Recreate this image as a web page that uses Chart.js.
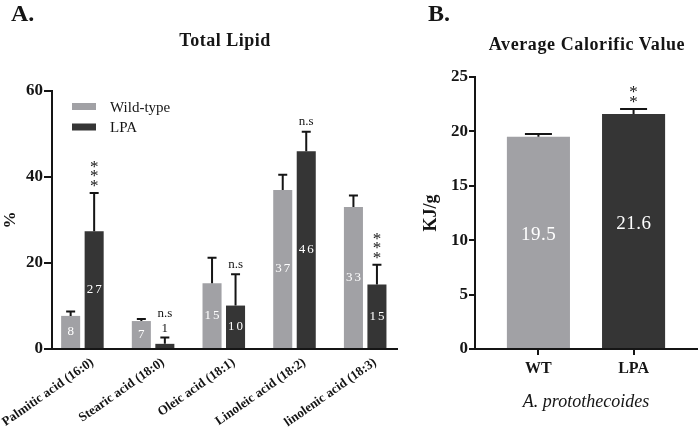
<!DOCTYPE html>
<html>
<head>
<meta charset="utf-8">
<script src="https://cdn.jsdelivr.net/npm/chart.js@4.4.0/dist/chart.umd.min.js"></script>
<style>
  body { margin: 0; background: #fff; }
  #wrap { position: relative; width: 700px; height: 433px; overflow: hidden; font-family: "Liberation Serif", "Times New Roman", Tinos, "DejaVu Serif", serif; color: #151515; }
  #wrap canvas { position: absolute; top: 0; }
  .txt { position: absolute; font-weight: bold; white-space: nowrap; line-height: 1; }
  .mid { transform: translateX(-50%); }
</style>
</head>
<body>
<div id="wrap">
  <canvas id="lipid" width="400" height="433" style="left:0"></canvas>
  <canvas id="calor" width="300" height="433" style="left:400px"></canvas>
  <div class="txt" style="left:11px;top:1px;font-size:24px">A.</div>
  <div class="txt" style="left:428px;top:1px;font-size:24px">B.</div>
  <div class="txt mid" style="left:225px;top:31px;font-size:18px;letter-spacing:0.5px">Total Lipid</div>
  <div class="txt mid" style="left:587px;top:35px;font-size:18px;letter-spacing:0.6px">Average Calorific Value</div>
</div>
<script>
// fatty acid composition (% of total lipid)
const lipidCats = ['Palmitic acid (16:0)', 'Stearic acid (18:0)', 'Oleic acid (18:1)', 'Linoleic acid (18:2)', 'linolenic acid (18:3)'];
const wtValues = [7.7, 6.5, 15.3, 37.0, 33.0];
const wtSD = [1.0, 0.5, 5.9, 3.5, 2.7];
const lpaValues = [27.4, 1.2, 10.1, 46.0, 15.0];
const lpaSD = [8.9, 1.5, 7.3, 4.5, 4.6];
const lpaSig = ['***', 'n.s', 'n.s', 'n.s', '***'];
const lipidTicks = [0, 20, 40, 60];

// calorific value (KJ/g)
const calCats = ['WT', 'LPA'];
const calValues = [19.5, 21.6];
const calSD = [0.26, 0.46];
const calSig = ['', '**'];
const calTicks = [0, 5, 10, 15, 20, 25];

const WT_COLOR = '#a1a1a5';
const LPA_COLOR = '#353535';
const INK = '#151515';
const SERIF = '"Liberation Serif", "Times New Roman", Tinos, "DejaVu Serif", serif';

Chart.defaults.font.family = SERIF;
Chart.defaults.color = INK;

// error bars (upper only), value labels and significance marks
const barExtras = {
  id: 'barExtras',
  afterDatasetsDraw(chart, args, opts) {
    const ctx = chart.ctx;
    const yScale = chart.scales.y;
    chart.data.datasets.forEach((ds, di) => {
      const meta = chart.getDatasetMeta(di);
      meta.data.forEach((bar, i) => {
        const v = ds.data[i].y;
        const capY = yScale.getPixelForValue(v + ds.sd[i]);
        ctx.save();
        ctx.strokeStyle = INK;
        ctx.lineWidth = 2;
        ctx.beginPath();
        ctx.moveTo(bar.x, bar.y);
        ctx.lineTo(bar.x, capY);
        ctx.moveTo(bar.x - opts.cap / 2, capY);
        ctx.lineTo(bar.x + opts.cap / 2, capY);
        ctx.stroke();

        ctx.textAlign = 'center';
        ctx.textBaseline = 'middle';
        ctx.font = opts.labelFont;
        ctx.letterSpacing = opts.spacing + 'px';
        const text = opts.format(v);
        let top = capY - 9;
        if (bar.base - bar.y > 20) {
          ctx.fillStyle = '#fff';
          ctx.fillText(text, bar.x + opts.spacing / 2, (bar.y + bar.base) / 2 + opts.shift);
        } else {
          ctx.fillStyle = INK;
          ctx.fillText(text, bar.x + opts.spacing / 2, top);
          top -= 14;
        }
        ctx.letterSpacing = '0px';

        const sig = ds.sig[i] || '';
        ctx.fillStyle = INK;
        if (sig.indexOf('*') >= 0) {
          ctx.font = '17px ' + SERIF;
          ctx.textBaseline = 'alphabetic';
          for (let k = 0; k < sig.length; k++) {
            ctx.fillText('*', bar.x, top - 1 - k * 9.5 + 8);
          }
        } else if (sig) {
          ctx.font = '13px ' + SERIF;
          ctx.fillText(sig, bar.x, top - 1);
        }
        ctx.restore();
      });
    });
  }
};

// small key in the top-left corner of the plot
const keyLegend = {
  id: 'keyLegend',
  afterDraw(chart) {
    const ctx = chart.ctx;
    const a = chart.chartArea;
    ctx.save();
    ctx.font = '15px ' + SERIF;
    ctx.textBaseline = 'alphabetic';
    chart.data.datasets.forEach((ds, i) => {
      const cy = a.top + 15.5 + i * 20.5;
      ctx.fillStyle = ds.backgroundColor;
      ctx.fillRect(a.left + 20, cy - 3.5, 24, 7);
      ctx.fillStyle = INK;
      ctx.fillText(ds.label, a.left + 58, cy + 5);
    });
    ctx.restore();
  }
};

const axisBorder = { display: true, color: INK, width: 2, z: 1 };
const tickFont = { family: SERIF, weight: 'bold', size: 17 };

new Chart(document.getElementById('lipid'), {
  type: 'bar',
  data: {
    datasets: [
      { label: 'Wild-type', data: wtValues.map((v, i) => ({ x: i, y: v })), sd: wtSD, sig: [],
        backgroundColor: WT_COLOR, categoryPercentage: 0.665, barPercentage: 0.81 },
      { label: 'LPA', data: lpaValues.map((v, i) => ({ x: i, y: v })), sd: lpaSD, sig: lpaSig,
        backgroundColor: LPA_COLOR, categoryPercentage: 0.665, barPercentage: 0.81 }
    ]
  },
  options: {
    responsive: false,
    animation: false,
    layout: { padding: { top: 91, right: 3, left: 0, bottom: 0 } },
    plugins: {
      legend: { display: false },
      tooltip: { enabled: false },
      barExtras: { cap: 9, labelFont: '13px ' + SERIF, spacing: 2, shift: 0, format: v => String(Math.round(v)) }
    },
    scales: {
      x: {
        type: 'linear', min: -0.43, max: 4.45, offset: false,
        grid: { display: true, drawOnChartArea: false, offset: false, color: 'rgba(0,0,0,0)', tickLength: 4 },
        border: axisBorder,
        ticks: {
          stepSize: 1, includeBounds: false, autoSkip: false, minRotation: 35, maxRotation: 35,
          padding: 2, labelOffset: 10, color: INK,
          font: { family: SERIF, weight: 'bold', size: 13 },
          callback: v => lipidCats[v] ?? ''
        },
        afterFit(s) { s.height = 84; s.paddingLeft = 0; s.paddingRight = 0; }
      },
      y: {
        min: 0, max: 60,
        afterBuildTicks(s) { s.ticks = lipidTicks.map(v => ({ value: v })); },
        grid: { drawOnChartArea: false, color: INK, lineWidth: 2, tickLength: 8 },
        border: axisBorder,
        ticks: { padding: 1, color: INK, font: tickFont },
        title: { display: true, text: '%', color: INK, font: { family: SERIF, weight: 'bold', size: 17 }, padding: { top: 0, bottom: 0 } },
        afterFit(s) { s.width = 52; s.paddingTop = 0; s.paddingBottom = 0; }
      }
    }
  },
  plugins: [barExtras, keyLegend]
});

new Chart(document.getElementById('calor'), {
  type: 'bar',
  data: {
    datasets: [
      { label: 'Calorific value', data: calValues.map((v, i) => ({ x: i, y: v })), sd: calSD, sig: calSig,
        backgroundColor: [WT_COLOR, LPA_COLOR], categoryPercentage: 1, barPercentage: 0.663 }
    ]
  },
  options: {
    responsive: false,
    animation: false,
    layout: { padding: { top: 77, right: 3, left: 0, bottom: 0 } },
    plugins: {
      legend: { display: false },
      tooltip: { enabled: false },
      barExtras: { cap: 27, labelFont: '19px ' + SERIF, spacing: 0.5, shift: -7, format: v => v.toFixed(1) }
    },
    scales: {
      x: {
        type: 'linear', min: -2 / 3, max: 5 / 3, offset: false,
        grid: { display: true, drawOnChartArea: false, offset: false, color: INK, lineWidth: 2, tickLength: 6 },
        border: axisBorder,
        ticks: {
          stepSize: 1, includeBounds: false, autoSkip: false, maxRotation: 0,
          padding: 4, color: INK, font: { family: SERIF, weight: 'bold', size: 16 },
          callback: v => calCats[v] ?? ''
        },
        title: { display: true, text: 'A. protothecoides', color: INK,
          font: { family: SERIF, style: 'italic', size: 18 }, padding: { top: 0, bottom: 20 } },
        afterFit(s) { s.height = 84; s.paddingLeft = 0; s.paddingRight = 0; }
      },
      y: {
        min: 0, max: 25,
        afterBuildTicks(s) { s.ticks = calTicks.map(v => ({ value: v })); },
        grid: { drawOnChartArea: false, color: INK, lineWidth: 2, tickLength: 6 },
        border: axisBorder,
        ticks: { padding: 1, color: INK, font: tickFont },
        title: { display: true, text: 'KJ/g', color: INK, font: { family: SERIF, weight: 'bold', size: 18 }, padding: { top: 21, bottom: 0 } },
        afterFit(s) { s.width = 75; s.paddingTop = 0; s.paddingBottom = 0; }
      }
    }
  },
  plugins: [barExtras]
});
</script>
</body>
</html>
